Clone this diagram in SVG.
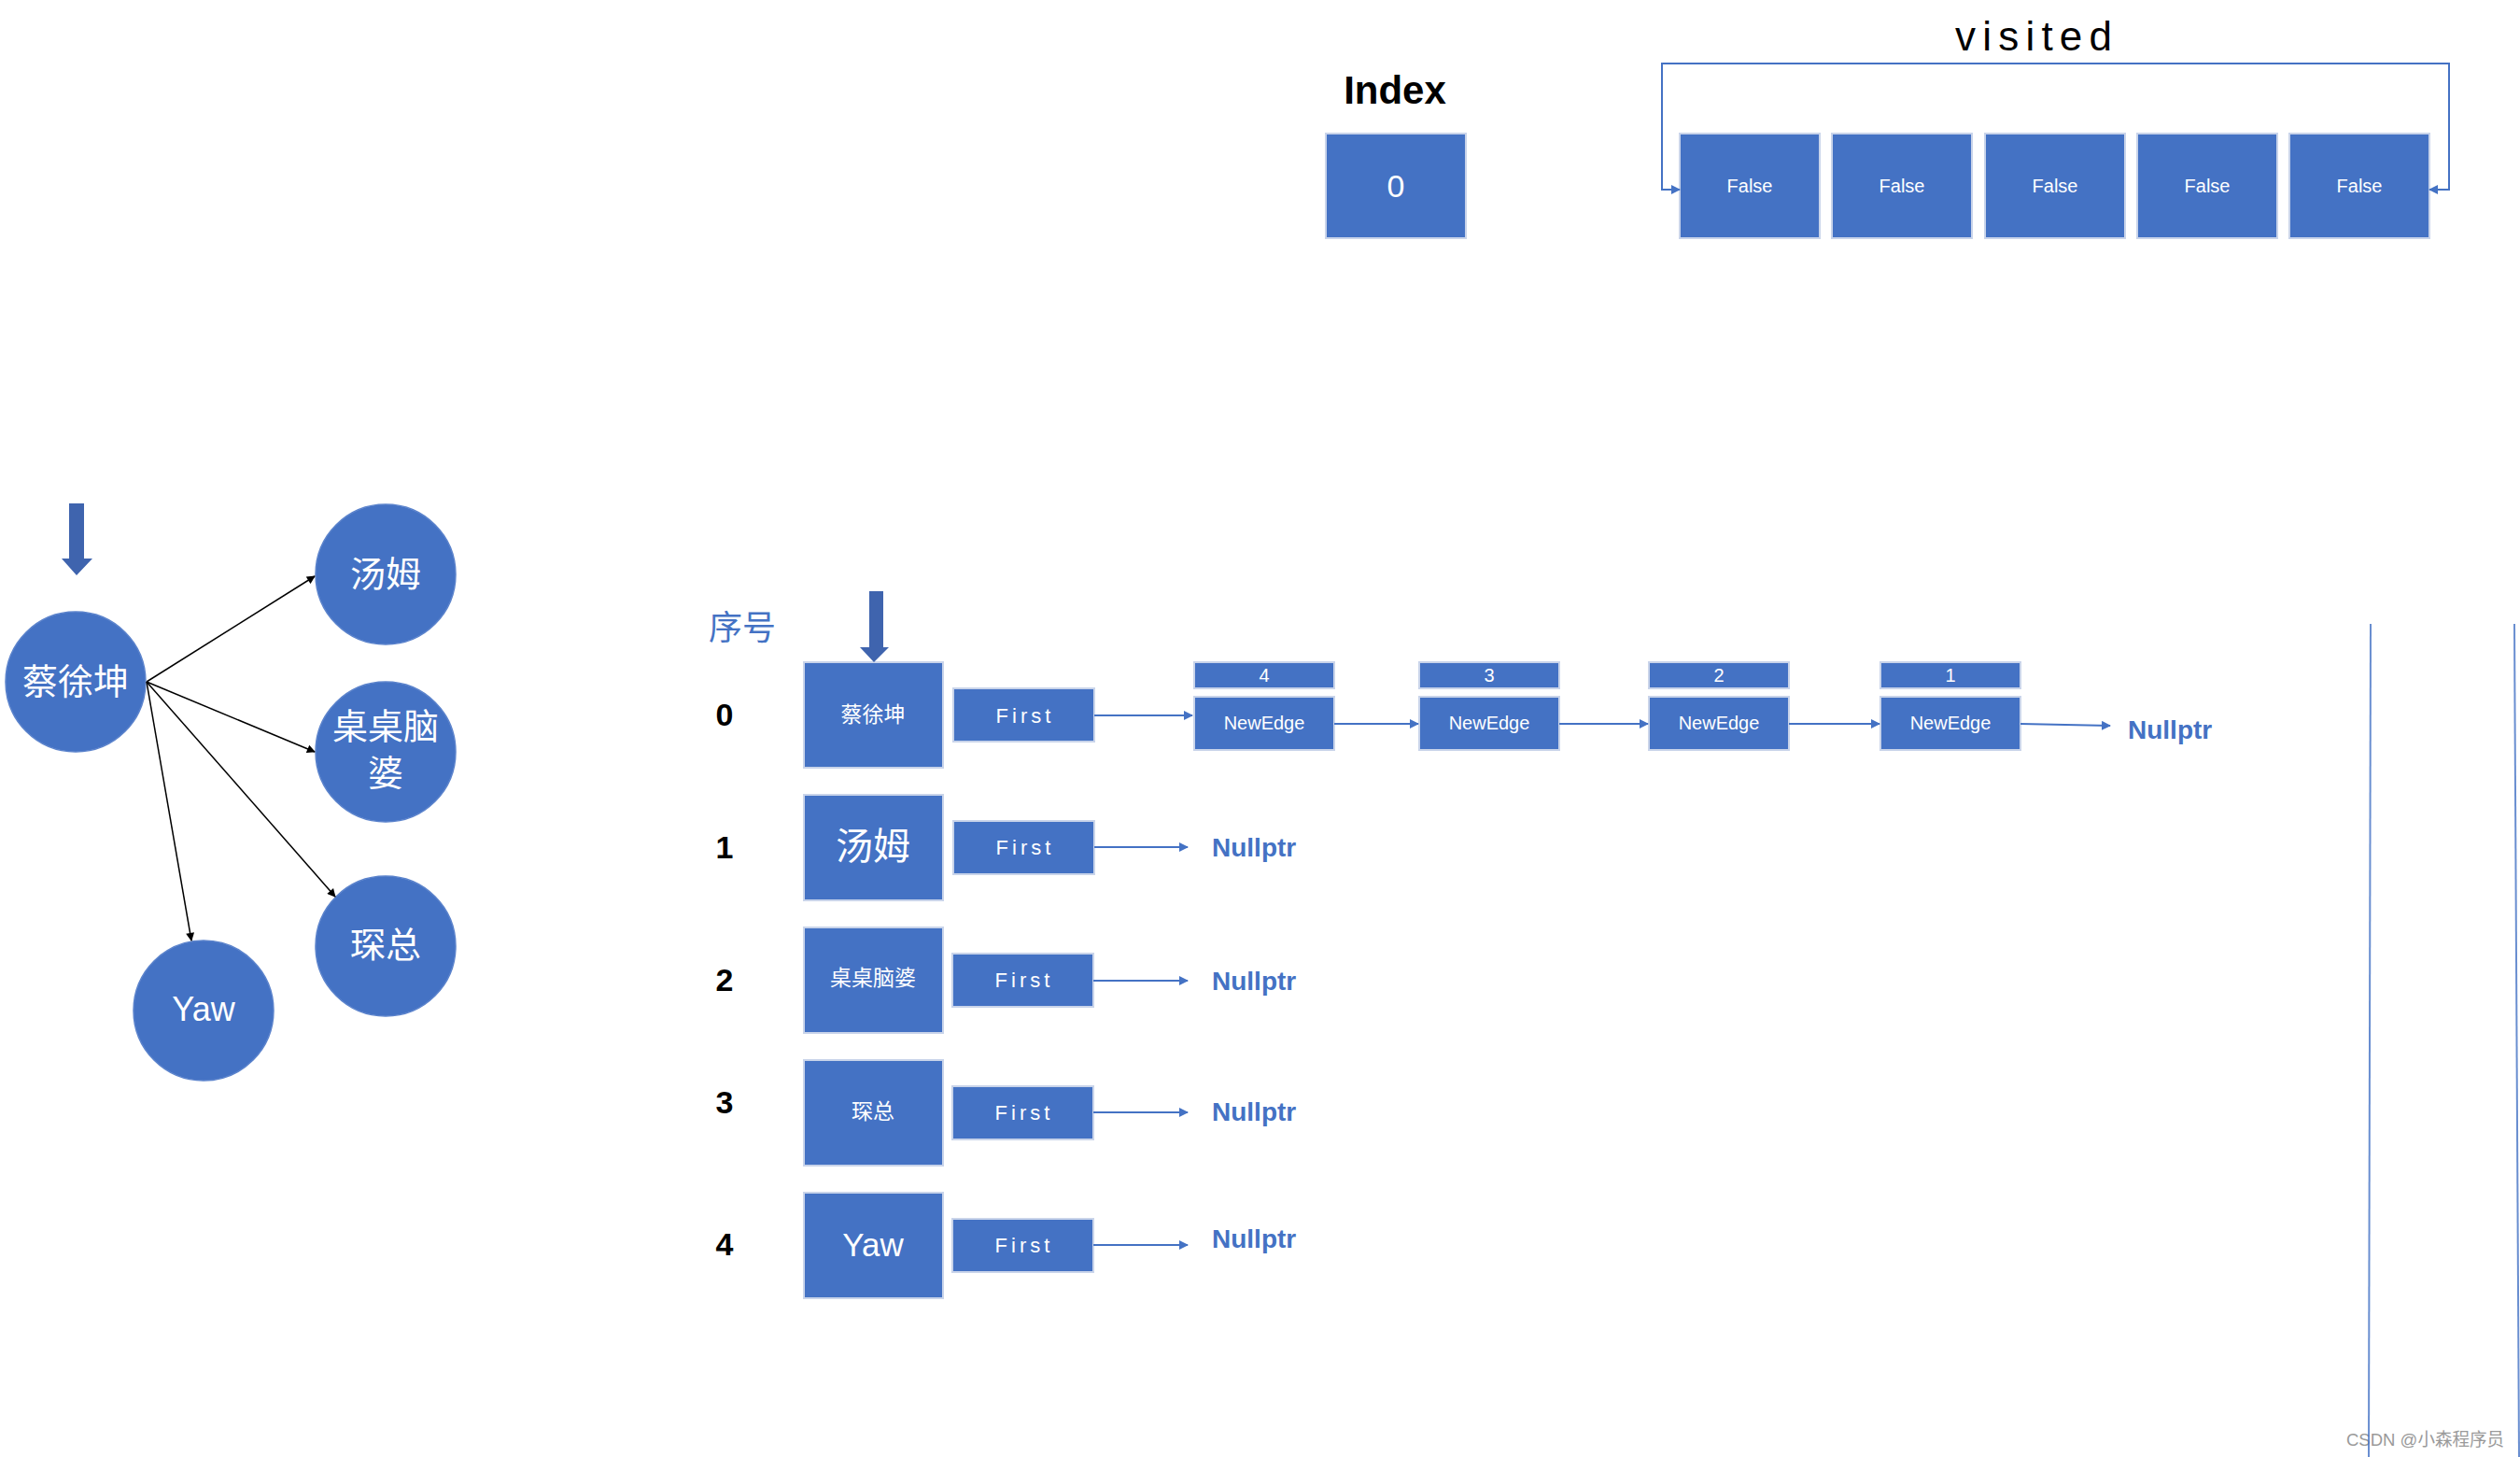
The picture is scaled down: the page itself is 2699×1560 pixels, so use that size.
<svg xmlns="http://www.w3.org/2000/svg" width="2699" height="1560" viewBox="0 0 2699 1560">
<style>
  .box { fill: #4472C4; stroke: #C9D4EA; stroke-width: 2; }
  .circ { fill: #4472C4; stroke: #5B83CC; stroke-width: 1.5; }
  .wt { fill: #ffffff; font-family: "Liberation Sans", "Noto Sans CJK SC", sans-serif; text-anchor: middle; dominant-baseline: central; }
  .blk { fill: #000000; font-family: "Liberation Sans", "Noto Sans CJK SC", sans-serif; font-weight: bold; text-anchor: middle; dominant-baseline: central; }
  .null { fill: #4472C4; font-family: "Liberation Sans", sans-serif; font-weight: bold; font-size: 28px; dominant-baseline: central; }
  .first { font-size: 22px; letter-spacing: 4px; }
  .edge { font-size: 20px; }
  .blue { fill: none; stroke: #4472C4; stroke-width: 2; marker-end: url(#ab); }
  .black { fill: none; stroke: #000000; stroke-width: 1.5; marker-end: url(#ak); }
  .thick { fill: #3F64AE; }
</style>
<defs>
  <marker id="ab" viewBox="0 0 10 10" refX="9" refY="5" markerWidth="10" markerHeight="10" markerUnits="userSpaceOnUse" orient="auto-start-reverse">
    <path d="M0,0 L10,5 L0,10 z" fill="#4472C4"/>
  </marker>
  <marker id="ak" viewBox="0 0 10 10" refX="9" refY="5" markerWidth="11" markerHeight="9" markerUnits="userSpaceOnUse" orient="auto">
    <path d="M0,0 L10,5 L0,10 z" fill="#000000"/>
  </marker>
</defs>
<rect width="2699" height="1560" fill="#ffffff"/>

<!-- Top: Index and visited -->
<text x="1494" y="96" class="blk" style="font-size:42px">Index</text>
<g id="index-box">
  <rect class="box" x="1420" y="143" width="150" height="112"/>
  <text class="wt" x="1495" y="199" style="font-size:34px">0</text>
</g>
<text x="2178" y="54" font-family="Liberation Sans, sans-serif" font-size="44" fill="#000" text-anchor="middle" textLength="168" lengthAdjust="spacing">visited</text>
<g id="visited-0"><rect class="box" x="1799" y="143" width="150" height="112"/><text class="wt edge" x="1874" y="199">False</text></g>
<g id="visited-1"><rect class="box" x="1962" y="143" width="150" height="112"/><text class="wt edge" x="2037" y="199">False</text></g>
<g id="visited-2"><rect class="box" x="2126" y="143" width="150" height="112"/><text class="wt edge" x="2201" y="199">False</text></g>
<g id="visited-3"><rect class="box" x="2289" y="143" width="150" height="112"/><text class="wt edge" x="2364" y="199">False</text></g>
<g id="visited-4"><rect class="box" x="2452" y="143" width="150" height="112"/><text class="wt edge" x="2527" y="199">False</text></g>

<!-- Left graph nodes -->
<g id="g-caixukun"><circle class="circ" cx="81" cy="730" r="75"/><text class="wt" x="81" y="730" style="font-size:38px">蔡徐坤</text></g>
<g id="g-tangmu"><circle class="circ" cx="413" cy="615" r="75"/><text class="wt" x="413" y="615" style="font-size:38px">汤姆</text></g>
<g id="g-zhuozhuo"><circle class="circ" cx="413" cy="805" r="75"/><text class="wt" x="413" y="778" style="font-size:38px">桌桌脑</text><text class="wt" x="413" y="828" style="font-size:38px">婆</text></g>
<g id="g-chenzong"><circle class="circ" cx="413" cy="1013" r="75"/><text class="wt" x="413" y="1012" style="font-size:38px">琛总</text></g>
<g id="g-yaw"><circle class="circ" cx="218" cy="1082" r="75"/><text class="wt" x="218" y="1080" style="font-size:36px">Yaw</text></g>

<!-- Right: adjacency list -->
<text x="795" y="669" fill="#4472C4" font-family="Noto Sans CJK SC, sans-serif" font-size="36" text-anchor="middle" dominant-baseline="central">序号</text>
<text class="blk" x="776" y="765" style="font-size:34px">0</text>
<text class="blk" x="776" y="907" style="font-size:34px">1</text>
<text class="blk" x="776" y="1049" style="font-size:34px">2</text>
<text class="blk" x="776" y="1180" style="font-size:34px">3</text>
<text class="blk" x="776" y="1332" style="font-size:34px">4</text>

<g id="v0"><rect class="box" x="861" y="709" width="149" height="113"/><text class="wt" x="935" y="765" style="font-size:23px">蔡徐坤</text></g>
<g id="v0-first"><rect class="box" x="1021" y="737" width="151" height="57"/><text class="wt first" x="1098" y="766">First</text></g>
<g id="v1"><rect class="box" x="861" y="851" width="149" height="113"/><text class="wt" x="935" y="906" style="font-size:40px">汤姆</text></g>
<g id="v1-first"><rect class="box" x="1021" y="879" width="151" height="57"/><text class="wt first" x="1098" y="907">First</text></g>
<g id="v2"><rect class="box" x="861" y="993" width="149" height="113"/><text class="wt" x="935" y="1047" style="font-size:23px">桌桌脑婆</text></g>
<g id="v2-first"><rect class="box" x="1020" y="1021" width="151" height="57"/><text class="wt first" x="1097" y="1049">First</text></g>
<g id="v3"><rect class="box" x="861" y="1135" width="149" height="113"/><text class="wt" x="935" y="1190" style="font-size:23px">琛总</text></g>
<g id="v3-first"><rect class="box" x="1020" y="1163" width="151" height="57"/><text class="wt first" x="1097" y="1191">First</text></g>
<g id="v4"><rect class="box" x="861" y="1277" width="149" height="113"/><text class="wt" x="935" y="1332" style="font-size:35px">Yaw</text></g>
<g id="v4-first"><rect class="box" x="1020" y="1305" width="151" height="57"/><text class="wt first" x="1097" y="1333">First</text></g>

<g id="e4"><rect class="box" x="1279" y="709" width="150" height="28"/><text class="wt edge" x="1354" y="723">4</text><rect class="box" x="1279" y="746" width="150" height="57"/><text class="wt edge" x="1354" y="774">NewEdge</text></g>
<g id="e3"><rect class="box" x="1520" y="709" width="150" height="28"/><text class="wt edge" x="1595" y="723">3</text><rect class="box" x="1520" y="746" width="150" height="57"/><text class="wt edge" x="1595" y="774">NewEdge</text></g>
<g id="e2"><rect class="box" x="1766" y="709" width="150" height="28"/><text class="wt edge" x="1841" y="723">2</text><rect class="box" x="1766" y="746" width="150" height="57"/><text class="wt edge" x="1841" y="774">NewEdge</text></g>
<g id="e1"><rect class="box" x="2014" y="709" width="150" height="28"/><text class="wt edge" x="2089" y="723">1</text><rect class="box" x="2014" y="746" width="150" height="57"/><text class="wt edge" x="2089" y="774">NewEdge</text></g>

<text class="null" x="2279" y="781">Nullptr</text>
<text class="null" x="1298" y="907">Nullptr</text>
<text class="null" x="1298" y="1050">Nullptr</text>
<text class="null" x="1298" y="1190">Nullptr</text>
<text class="null" x="1298" y="1326">Nullptr</text>

<text x="2513" y="1548" fill="#9a9a9a" font-family="Liberation Sans, Noto Sans CJK SC, sans-serif" font-size="19" textLength="169" lengthAdjust="spacingAndGlyphs">CSDN @小森程序员</text>

<!-- Connectors -->
<g id="connectors">
  <path class="blue" d="M2602,203 H2623 V68 H1780 V203 H1799" marker-start="url(#ab)"/>
  <line class="black" x1="157" y1="730" x2="337" y2="617"/>
  <line class="black" x1="157" y1="730" x2="337" y2="805"/>
  <line class="black" x1="157" y1="730" x2="359" y2="960"/>
  <line class="black" x1="157" y1="730" x2="205" y2="1007"/>
  <line class="blue" x1="1172" y1="766" x2="1277" y2="766"/>
  <line class="blue" x1="1429" y1="775" x2="1519" y2="775"/>
  <line class="blue" x1="1670" y1="775" x2="1765" y2="775"/>
  <line class="blue" x1="1916" y1="775" x2="2013" y2="775"/>
  <line class="blue" x1="2164" y1="775" x2="2260" y2="777"/>
  <line class="blue" x1="1172" y1="907" x2="1272" y2="907"/>
  <line class="blue" x1="1171" y1="1050" x2="1272" y2="1050"/>
  <line class="blue" x1="1171" y1="1191" x2="1272" y2="1191"/>
  <line class="blue" x1="1171" y1="1333" x2="1272" y2="1333"/>
  <polygon class="thick" points="74,539 90,539 90,598 99,598 82,616 66,598 74,598"/>
  <polygon class="thick" points="931,633 946,633 946,693 952,693 936,709 921,693 931,693"/>
  <line x1="2539" y1="668" x2="2537" y2="1560" stroke="#4472C4" stroke-width="2" stroke-opacity="0.8"/>
  <line x1="2693" y1="668" x2="2698" y2="1560" stroke="#4472C4" stroke-width="2" stroke-opacity="0.8"/>
</g>
</svg>
